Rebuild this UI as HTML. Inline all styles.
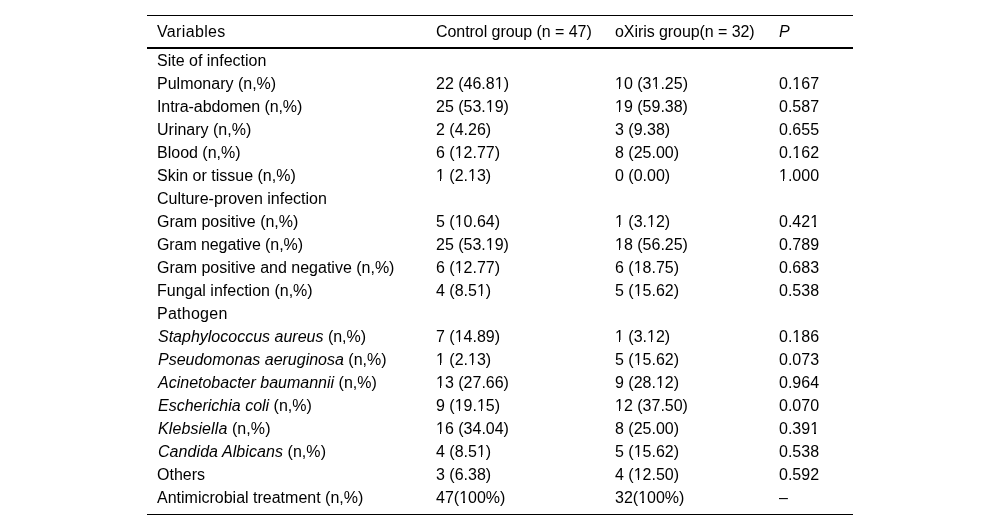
<!DOCTYPE html>
<html><head><meta charset="utf-8">
<style>
html,body{margin:0;padding:0;background:#fff;}
body{width:1000px;height:530px;overflow:hidden;position:relative;font-family:"Liberation Sans",sans-serif;font-size:16px;color:#000;}
table{position:absolute;will-change:transform;left:147px;top:15px;width:706px;border-collapse:collapse;border-top:1px solid #000;border-bottom:1px solid #000;}
td,th{padding:0 0 0 10px;height:23px;text-align:left;font-weight:normal;white-space:nowrap;vertical-align:middle;}
thead th{height:31px;border-bottom:2px solid #000;}
.c1{width:269px}
.c2{width:169px}
.c3{width:154px}
.o{position:relative}
.o:before,.o:after{content:"";position:absolute;background:#fff;top:12.3px;height:2.2px}
.o:before{left:0;width:0.2515em}
.o:after{left:0.3398em;width:0.2162em}
i{font-style:italic}
td i{margin-left:1px}
tr.last td{height:28px;vertical-align:top;padding-top:3px;box-sizing:border-box}
</style></head><body>
<table>
<thead><tr><th class="c1" style="letter-spacing:0.35px">Variables</th><th class="c2" style="letter-spacing:-0.06px">Control group (n = 47)</th><th class="c3" style="letter-spacing:-0.07px">oXiris group(n = 32)</th><th><i>P</i></th></tr></thead>
<tbody>
<tr><td>Site of infection</td><td></td><td></td><td></td></tr>
<tr><td>Pulmonary (n,%)</td><td>22 (46.8<span class="o">1</span>)</td><td><span class="o">1</span>0 (3<span class="o">1</span>.25)</td><td>0.<span class="o">1</span>67</td></tr>
<tr><td style="letter-spacing:-0.08px">Intra-abdomen (n,%)</td><td>25 (53.<span class="o">1</span>9)</td><td><span class="o">1</span>9 (59.38)</td><td>0.587</td></tr>
<tr><td>Urinary (n,%)</td><td>2 (4.26)</td><td>3 (9.38)</td><td>0.655</td></tr>
<tr><td>Blood (n,%)</td><td>6 (<span class="o">1</span>2.77)</td><td>8 (25.00)</td><td>0.<span class="o">1</span>62</td></tr>
<tr><td>Skin or tissue (n,%)</td><td><span class="o">1</span> (2.<span class="o">1</span>3)</td><td>0 (0.00)</td><td><span class="o">1</span>.000</td></tr>
<tr><td>Culture-proven infection</td><td></td><td></td><td></td></tr>
<tr><td>Gram positive (n,%)</td><td>5 (<span class="o">1</span>0.64)</td><td><span class="o">1</span> (3.<span class="o">1</span>2)</td><td>0.42<span class="o">1</span></td></tr>
<tr><td style="letter-spacing:-0.09px">Gram negative (n,%)</td><td>25 (53.<span class="o">1</span>9)</td><td><span class="o">1</span>8 (56.25)</td><td>0.789</td></tr>
<tr><td>Gram positive and negative (n,%)</td><td>6 (<span class="o">1</span>2.77)</td><td>6 (<span class="o">1</span>8.75)</td><td>0.683</td></tr>
<tr><td>Fungal infection (n,%)</td><td>4 (8.5<span class="o">1</span>)</td><td>5 (<span class="o">1</span>5.62)</td><td>0.538</td></tr>
<tr><td style="letter-spacing:0.26px">Pathogen</td><td></td><td></td><td></td></tr>
<tr><td><i>Staphylococcus aureus</i> (n,%)</td><td>7 (<span class="o">1</span>4.89)</td><td><span class="o">1</span> (3.<span class="o">1</span>2)</td><td>0.<span class="o">1</span>86</td></tr>
<tr><td><i>Pseudomonas aeruginosa</i> (n,%)</td><td><span class="o">1</span> (2.<span class="o">1</span>3)</td><td>5 (<span class="o">1</span>5.62)</td><td>0.073</td></tr>
<tr><td><i>Acinetobacter baumannii</i> (n,%)</td><td><span class="o">1</span>3 (27.66)</td><td>9 (28.<span class="o">1</span>2)</td><td>0.964</td></tr>
<tr><td><i>Escherichia coli</i> (n,%)</td><td>9 (<span class="o">1</span>9.<span class="o">1</span>5)</td><td><span class="o">1</span>2 (37.50)</td><td>0.070</td></tr>
<tr><td style="letter-spacing:0.09px"><i>Klebsiella</i> (n,%)</td><td><span class="o">1</span>6 (34.04)</td><td>8 (25.00)</td><td>0.39<span class="o">1</span></td></tr>
<tr><td style="letter-spacing:0.065px"><i>Candida Albicans</i> (n,%)</td><td>4 (8.5<span class="o">1</span>)</td><td>5 (<span class="o">1</span>5.62)</td><td>0.538</td></tr>
<tr><td>Others</td><td>3 (6.38)</td><td>4 (<span class="o">1</span>2.50)</td><td>0.592</td></tr>
<tr class="last"><td>Antimicrobial treatment (n,%)</td><td>47(<span class="o">1</span>00%)</td><td>32(<span class="o">1</span>00%)</td><td>&ndash;</td></tr>
</tbody>
</table>
</body></html>
